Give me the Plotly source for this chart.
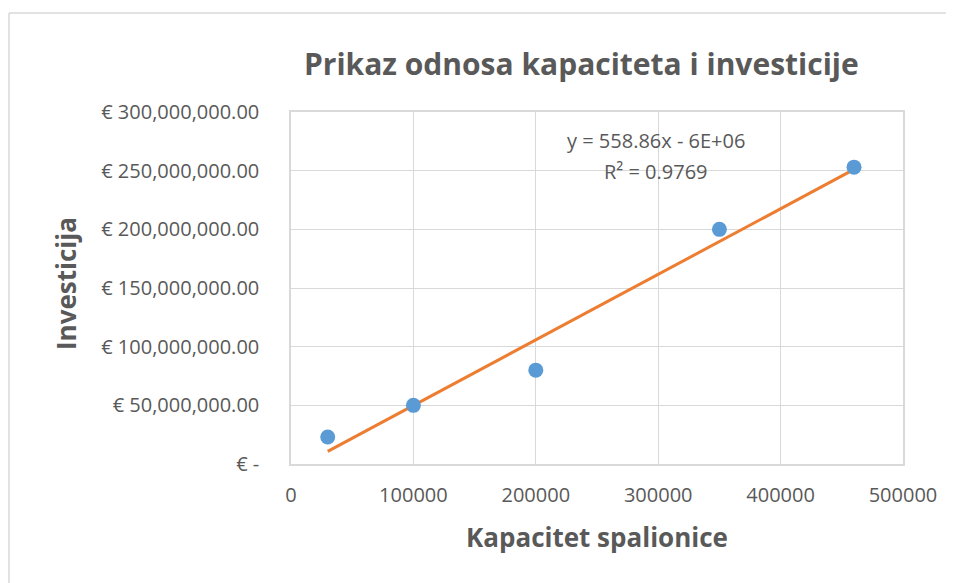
import plotly.graph_objects as go

# Data
kapacitet = [30000, 100000, 200000, 350000, 460000]
investicija = [23e6, 50e6, 80e6, 200e6, 253e6]
slope = 558.86
intercept = -6e6
r2_text = "R² = 0.9769"
eq_text = "y = 558.86x - 6E+06"

y_tickvals = [0, 50e6, 100e6, 150e6, 200e6, 250e6, 300e6]
y_ticktext = ["€ -", "€ 50,000,000.00", "€ 100,000,000.00", "€ 150,000,000.00",
              "€ 200,000,000.00", "€ 250,000,000.00", "€ 300,000,000.00"]
x_tickvals = [0, 100000, 200000, 300000, 400000, 500000]
x_ticktext = ["0", "100000", "200000", "300000", "400000", "500000"]

OFF = 8  # page body margin
W, H = 954 - OFF, 583 - OFF
# plot area in screen pixels: x 291..903, y 112..464
L, R, T, B = 291 - OFF, 954 - 903, 112 - OFF, 583 - 464
pw, ph = W - L - R, H - T - B

def px_x(p):
    return (p - OFF - L) / pw

def px_y(p):
    return (H - B - (p - OFF)) / ph

FONT = "Open Sans"
GREY = "#595959"

trend_x = [min(kapacitet), max(kapacitet)]
trend_y = [slope * v + intercept for v in trend_x]

fig = go.Figure()
fig.add_trace(go.Scatter(x=trend_x, y=trend_y, mode="lines",
                         line=dict(color="#ED7D31", width=3), showlegend=False))
fig.add_trace(go.Scatter(x=kapacitet, y=investicija, mode="markers",
                         marker=dict(color="#5B9BD5", size=15), showlegend=False))

border = dict(color="#D9D9D9", width=1.5)
fig.update_layout(
    width=W, height=H,
    margin=dict(l=L, r=R, t=T, b=B),
    paper_bgcolor="white", plot_bgcolor="white",
    font=dict(family=FONT, color=GREY, size=16),
    xaxis=dict(range=[0, 500000], tickvals=x_tickvals, ticktext=x_ticktext,
               showgrid=True, gridcolor="#D9D9D9", gridwidth=1,
               showline=True, linecolor="#D9D9D9", linewidth=1.5, mirror=True,
               zeroline=False, ticks="", ticklabelstandoff=12,
               tickfont=dict(size=20, color=GREY, family=FONT)),
    yaxis=dict(range=[0, 300e6], tickvals=y_tickvals, ticktext=y_ticktext,
               showgrid=True, gridcolor="#D9D9D9", gridwidth=1,
               showline=True, linecolor="#D9D9D9", linewidth=1.5, mirror=True,
               zeroline=False, ticks="", ticklabelstandoff=26,
               tickfont=dict(size=20, color=GREY, family=FONT)),
    shapes=[
        dict(type="line", xref="paper", yref="paper",
             x0=px_x(9), x1=px_x(1000), y0=px_y(13), y1=px_y(13), line=border, layer="below"),
        dict(type="line", xref="paper", yref="paper",
             x0=px_x(9), x1=px_x(9), y0=px_y(13), y1=px_y(650), line=border, layer="below"),
    ],
    annotations=[
        dict(text="<b>Prikaz odnosa kapaciteta i investicije</b>", xref="paper", yref="paper",
             x=px_x(581), y=px_y(63), showarrow=False, xanchor="center", yanchor="middle",
             font=dict(size=30, color=GREY, family=FONT)),
        dict(text="<b>Investicija</b>", xref="paper", yref="paper",
             x=px_x(66), y=px_y(283), showarrow=False, textangle=-90,
             xanchor="center", yanchor="middle",
             font=dict(size=26, color=GREY, family=FONT)),
        dict(text="<b>Kapacitet spalionice</b>", xref="paper", yref="paper",
             x=px_x(597), y=px_y(537), showarrow=False, xanchor="center", yanchor="middle",
             font=dict(size=26, color=GREY, family=FONT)),
        dict(text=eq_text, xref="paper", yref="paper",
             x=px_x(656), y=px_y(140), showarrow=False, xanchor="center", yanchor="middle",
             font=dict(size=20, color=GREY, family=FONT)),
        dict(text=r2_text, xref="paper", yref="paper",
             x=px_x(656), y=px_y(171), showarrow=False, xanchor="center", yanchor="middle",
             font=dict(size=20, color=GREY, family=FONT)),
    ],
)

fig.write_html("out.html")
